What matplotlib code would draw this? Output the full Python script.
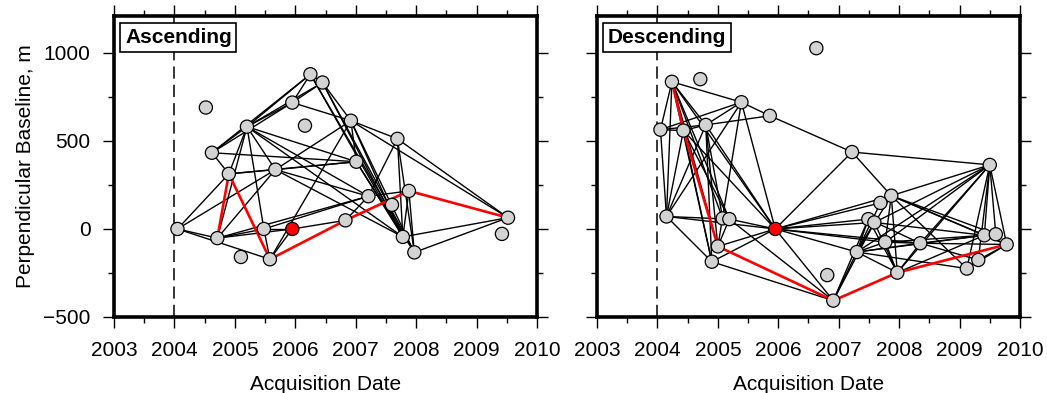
import matplotlib
matplotlib.use('Agg')
import matplotlib.pyplot as plt
from matplotlib.ticker import MultipleLocator

plt.rcParams['font.family'] = ['Liberation Sans', 'DejaVu Sans']

# ascending track: acquisition dates (decimal year) and perpendicular baselines (m)
asc_dates = [2004.05, 2004.52, 2004.62, 2004.71, 2004.90, 2005.10, 2005.20, 2005.48,
             2005.58, 2005.67, 2005.95, 2005.95, 2006.16, 2006.25, 2006.45, 2006.83,
             2006.92, 2007.01, 2007.21, 2007.60, 2007.69, 2007.78, 2007.88, 2007.97,
             2009.42, 2009.52]
asc_bperp = [0, 690, 433, -52, 313, -159, 581, 0, -172, 337, 0, 718, 587, 879, 832, 49,
             615, 382, 186, 137, 512, -45, 216, -133, -28, 64]
asc_master = 10
asc_pairs = [(0, 3), (0, 4), (0, 8), (0, 9),
             (2, 4), (2, 6), (2, 11), (2, 17), (2, 13),
             (3, 6), (3, 7), (3, 9), (3, 10), (3, 18),
             (4, 6), (4, 9), (4, 17),
             (6, 7), (6, 9), (6, 11), (6, 13), (6, 14), (6, 17), (6, 18), (6, 21),
             (7, 8), (7, 10), (7, 18),
             (8, 10), (8, 16),
             (9, 16), (9, 17), (9, 21), (9, 18),
             (10, 15),
             (11, 13), (11, 14), (11, 16),
             (13, 14), (13, 21), (13, 23),
             (14, 16), (14, 21), (14, 23),
             (16, 17), (16, 20), (16, 25), (16, 21), (16, 23),
             (17, 21), (17, 23),
             (18, 20), (18, 22), (15, 18),
             (20, 25), (20, 21), (20, 23),
             (21, 22), (21, 25), (22, 23), (23, 25)]
asc_path = [(3, 4), (4, 8), (8, 15), (15, 22), (22, 25)]

# descending track
desc_dates = [2004.24, 2004.71, 2004.05, 2004.43, 2004.80, 2005.39, 2005.86, 2006.63,
              2007.22, 2009.50, 2004.15, 2005.08, 2005.19, 2005.95, 2005.00, 2004.90,
              2006.81, 2006.91, 2007.87, 2007.69, 2007.49, 2007.59, 2007.30, 2007.77,
              2007.97, 2008.35, 2009.12, 2009.31, 2009.41, 2009.60, 2009.78]
desc_bperp = [836, 851, 564, 559, 591, 720, 643, 1027, 437, 364, 71, 60, 56, 0, -99, -186,
              -262, -407, 189, 148, 56, 37, -131, -75, -248, -81, -225, -176, -36, -30, -88]
desc_master = 13
desc_pairs = [(0, 2), (0, 10), (0, 4), (0, 5), (0, 11), (0, 14), (0, 15), (0, 13), (0, 12),
              (2, 3), (2, 10), (2, 4),
              (3, 4), (3, 10), (3, 13), (3, 15), (3, 12),
              (4, 5), (4, 6), (4, 10), (4, 13), (4, 11), (4, 15), (4, 14),
              (5, 6), (5, 10), (5, 13), (5, 14), (5, 2),
              (6, 8),
              (8, 9), (8, 13), (8, 18),
              (10, 13), (10, 15), (10, 12),
              (12, 13), (12, 17),
              (14, 13), (14, 12),
              (15, 13), (15, 17),
              (13, 17), (13, 20), (13, 21), (13, 22), (13, 23), (13, 19), (13, 25), (13, 18),
              (17, 21), (17, 20), (17, 22),
              (18, 9), (18, 22), (18, 23), (18, 24), (18, 28), (18, 29), (18, 30), (18, 26),
              (19, 22),
              (20, 22), (20, 25), (20, 24),
              (21, 22), (21, 24), (21, 28),
              (22, 23), (22, 25), (22, 9), (22, 28), (22, 26), (22, 24),
              (23, 25), (23, 9), (23, 24), (23, 28),
              (24, 9), (24, 25), (24, 28),
              (25, 9), (25, 28), (25, 30), (25, 27),
              (9, 26), (9, 27), (9, 28), (9, 29), (9, 30), (9, 21),
              (26, 30), (27, 30), (28, 30)]
desc_path = [(0, 3), (3, 14), (14, 17), (17, 24), (24, 30)]

xticks = [2003, 2004, 2005, 2006, 2007, 2008, 2009, 2010]
yticks = [-500, 0, 500, 1000]


def draw_panel(ax, dates, bperp, pairs, path, master, name):
    ax.axvline(2004, color='k', lw=1.1, ls=(0, (8, 4)), zorder=1)
    for i, j in pairs:
        ax.plot([dates[i], dates[j]], [bperp[i], bperp[j]], color='k', lw=1.0, zorder=2)
    for i, j in path:
        ax.plot([dates[i], dates[j]], [bperp[i], bperp[j]], color='red', lw=1.9, zorder=3)
    colors = ['red' if k == master else '#d3d3d3' for k in range(len(dates))]
    ax.scatter(dates, bperp, s=90, c=colors, edgecolors='k', linewidths=0.9, zorder=4)

    ax.set_xlim(2003, 2010)
    ax.set_ylim(-500, 1210)
    ax.set_xticks(xticks)
    ax.set_yticks(yticks)
    ax.xaxis.set_minor_locator(MultipleLocator(0.5))
    ax.yaxis.set_minor_locator(MultipleLocator(250))
    ax.tick_params(which='both', direction='out', top=True, right=True, width=1,
                   labelsize=15)
    ax.tick_params(which='major', length=8)
    ax.tick_params(which='minor', length=4.5)
    ax.tick_params(axis='x', pad=9)
    ax.tick_params(axis='y', pad=9)
    for s in ax.spines.values():
        s.set_linewidth(2.6)
    ax.set_xlabel('Acquisition Date', fontsize=15, labelpad=11)
    ax.text(0.026, 0.96, name, transform=ax.transAxes, ha='left', va='top',
            fontsize=15, fontweight='bold', zorder=6,
            bbox=dict(boxstyle='square,pad=0.22', fc='white', ec='k', lw=1.2))


fig = plt.figure(figsize=(10.47, 3.93), dpi=100)
ax1 = fig.add_axes([0.1089, 0.1934, 0.404, 0.766])
ax2 = fig.add_axes([0.5702, 0.1934, 0.404, 0.766])

draw_panel(ax1, asc_dates, asc_bperp, asc_pairs, asc_path, asc_master, 'Ascending')
draw_panel(ax2, desc_dates, desc_bperp, desc_pairs, desc_path, desc_master, 'Descending')

ax1.set_ylabel('Perpendicular Baseline, m', fontsize=15, labelpad=6)
ax2.tick_params(labelleft=False)

fig.savefig('out.png', dpi=100)
